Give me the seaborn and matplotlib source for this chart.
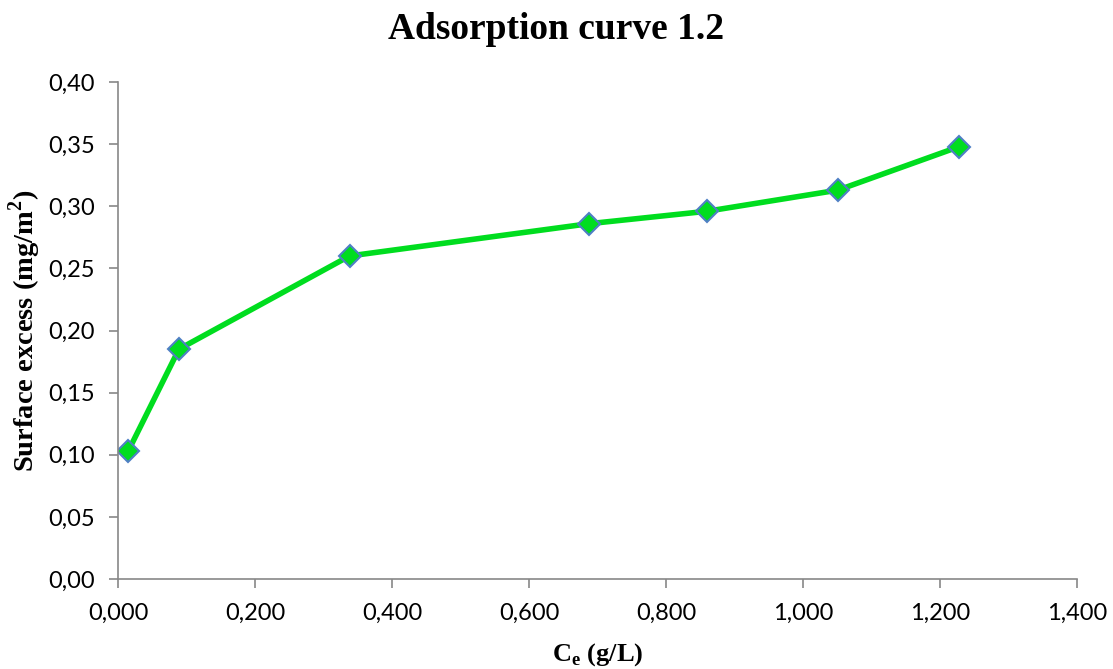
import matplotlib
matplotlib.use("Agg")
import matplotlib.pyplot as plt
import seaborn as sns
import pandas as pd
from matplotlib.ticker import FuncFormatter, MultipleLocator

# Equilibrium concentration (g/L) and surface excess (mg/m2)
ce = [0.015, 0.089, 0.338, 0.688, 0.860, 1.051, 1.228]
surface_excess = [0.103, 0.185, 0.260, 0.286, 0.296, 0.313, 0.348]

df = pd.DataFrame({"ce": ce, "gamma": surface_excess})

sns.set_theme(style="white")
plt.rcParams["font.family"] = ["Lato", "DejaVu Sans"]
plt.rcParams["text.color"] = "black"
plt.rcParams["axes.labelcolor"] = "black"
plt.rcParams["mathtext.fontset"] = "custom"
plt.rcParams["mathtext.rm"] = "Liberation Serif:bold"

fig = plt.figure(figsize=(11.13, 6.69), dpi=100)
ax = fig.add_axes([0.106, 0.1345, 0.8617, 0.7429])

sns.lineplot(data=df, x="ce", y="gamma", ax=ax, color="#00dd1f", linewidth=4,
             marker="D", markersize=11.5, markerfacecolor="#00dd1f",
             markeredgecolor="#4f7fc4", markeredgewidth=1.5)

ax.set_xlim(0, 1.4)
ax.set_ylim(0, 0.40)
ax.xaxis.set_major_locator(MultipleLocator(0.2))
ax.yaxis.set_major_locator(MultipleLocator(0.05))
ax.xaxis.set_major_formatter(FuncFormatter(lambda v, p: f"{v:.3f}".replace(".", ",")))
ax.yaxis.set_major_formatter(FuncFormatter(lambda v, p: f"{v:.2f}".replace(".", ",")))

for side in ["top", "right"]:
    ax.spines[side].set_visible(False)
for side in ["left", "bottom"]:
    ax.spines[side].set_color("#888888")
    ax.spines[side].set_linewidth(1.2)

ax.tick_params(axis="both", which="major", direction="out", length=6.5, width=1.2,
               color="#888888", labelsize=17, labelcolor="black",
               bottom=True, left=True)
ax.tick_params(axis="x", pad=11)
ax.tick_params(axis="y", pad=10)

serif = ["Liberation Serif", "DejaVu Serif"]
ax.set_xlabel(r"C$_\mathregular{e}$ (g/L)", fontsize=19, fontweight="bold",
              family=serif, labelpad=12, color="black")
ax.set_ylabel(r"Surface excess (mg/m$^\mathregular{2}$)", fontsize=20.5,
              fontweight="bold", family=serif, labelpad=4, color="black")
fig.suptitle("Adsorption curve 1.2", fontsize=27, fontweight="bold",
             family=serif, y=0.982, color="black")

fig.savefig("out.png", dpi=100)
